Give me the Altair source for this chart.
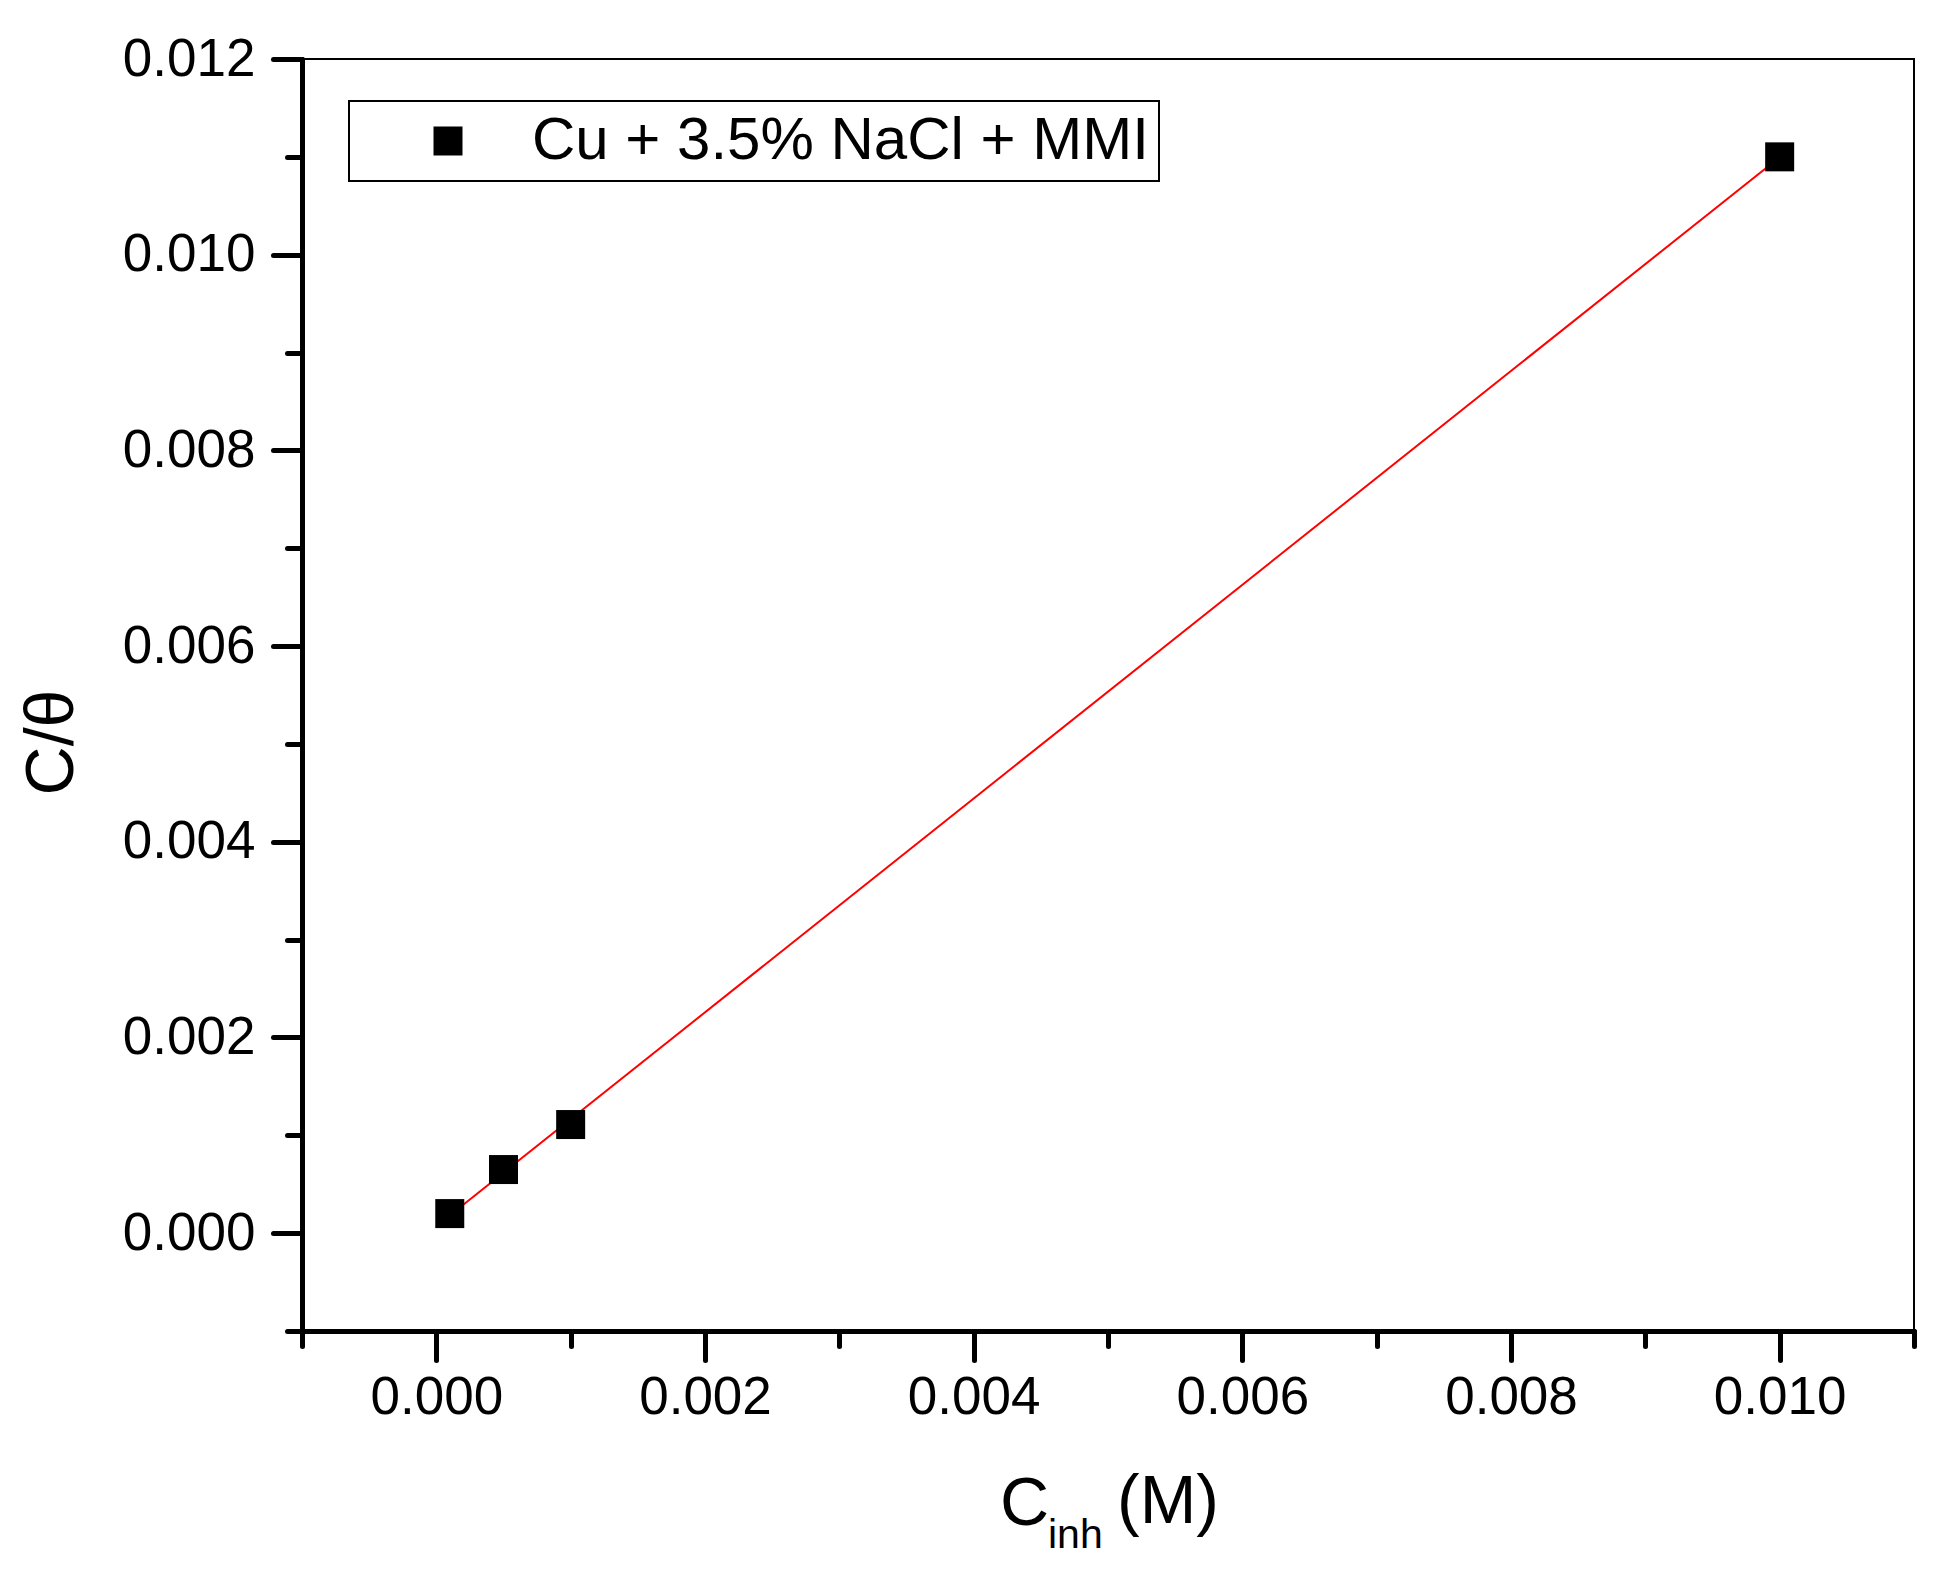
import pandas as pd
import altair as alt

# data
c_inh = [0.0001, 0.0005, 0.001, 0.01]
c_theta = [0.0002, 0.00065, 0.00111, 0.0110]
series_name = ["Cu + 3.5% NaCl + MMI"] * 4

x_major = [0.000, 0.002, 0.004, 0.006, 0.008, 0.010]
x_minor = [-0.001, 0.001, 0.003, 0.005, 0.007, 0.009, 0.011]
y_major = [0.000, 0.002, 0.004, 0.006, 0.008, 0.010, 0.012]
y_minor = [-0.001, 0.001, 0.003, 0.005, 0.007, 0.009, 0.011]

x_title_parts = ["C", "inh", "(M)"]
y_title = "C/θ"

df = pd.DataFrame({"x": c_inh, "y": c_theta, "series": series_name})

FONT = "Liberation Sans"
W, H = 1612, 1272

xs = alt.Scale(domain=[-0.001, 0.011], nice=False, zero=False)
ys = alt.Scale(domain=[-0.001, 0.012], nice=False, zero=False)

major = dict(domainWidth=5, domainColor="black", tickWidth=5, tickColor="black",
             tickSize=29, tickCap="round", domainCap="round", grid=False,
             labelFont=FONT, labelFontSize=53, labelColor="black", format=".3f")
minor = dict(domainWidth=5, domainColor="black", tickWidth=5, tickColor="black",
             tickSize=15, tickCap="round", grid=False, labels=False, title=None)

# ==============================
#   TITIK DATA + LEGENDA
# ==============================
points = alt.Chart(df).mark_point(filled=True, color="black", size=841, opacity=1).encode(
    x=alt.X("x:Q", scale=xs,
            axis=alt.Axis(values=x_major, orient="bottom", title=None,
                          labelPadding=11, **major)),
    y=alt.Y("y:Q", scale=ys,
            axis=alt.Axis(values=y_major, orient="left", title=y_title,
                          labelPadding=18, titleFont=FONT, titleFontSize=68,
                          titleFontWeight="normal", titleColor="black",
                          titleX=-250, titleY=683, titleBaseline="middle",
                          titleAlign="center", titleAngle=270, **major)),
    shape=alt.Shape("series:N", scale=alt.Scale(range=["square"]),
                    legend=alt.Legend(title=None, orient="none", legendX=47, legendY=42,
                                      strokeColor="black", fillColor="white",
                                      padding=10, symbolOffset=59, labelOffset=54,
                                      symbolSize=841, symbolFillColor="black",
                                      symbolStrokeWidth=0, labelFont=FONT,
                                      labelFontSize=60, labelColor="black",
                                      labelLimit=1000)),
)

# ==============================
#   GARIS REGRESI (merah)
# ==============================
fit = alt.Chart(df).transform_regression(
    "x", "y", extent=[min(c_inh), max(c_inh)]
).mark_line(color="#ff0000", strokeWidth=2).encode(
    x=alt.X("x:Q", scale=xs,
            axis=alt.Axis(values=x_minor, orient="bottom", **minor)),
    y=alt.Y("y:Q", scale=ys,
            axis=alt.Axis(values=y_minor, orient="left", **minor)),
)

# judul sumbu x dengan subskrip
def title_text(txt, px, py, size):
    return alt.Chart(pd.DataFrame({"t": [txt]})).mark_text(
        font=FONT, fontSize=size, align="left", baseline="alphabetic", color="black"
    ).encode(text="t:N", x=alt.value(px), y=alt.value(py))

t_c = title_text(x_title_parts[0], 698, 1466, 68)
t_sub = title_text(x_title_parts[1], 746, 1489, 41)
t_m = title_text(x_title_parts[2], 815, 1464, 68)

chart = alt.layer(fit, points, t_c, t_sub, t_m).resolve_axis(
    x="independent", y="independent"
).properties(
    width=W, height=H,
    padding={"left": 294, "top": 51, "right": 30, "bottom": 230},
    autosize=alt.AutoSizeParams(type="none"),
    background="white",
).configure_view(stroke="black", strokeWidth=2).configure_legend(strokeWidth=2)

chart.save("out.html", embed_options={"renderer": "svg", "actions": False})
